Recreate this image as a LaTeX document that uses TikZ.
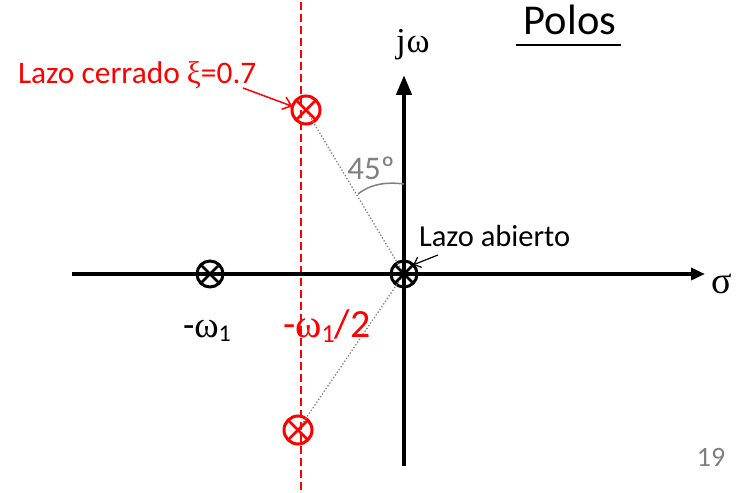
\documentclass[tikz,border=0pt]{standalone}
\usepackage{fontspec}
\setmainfont{Carlito}
\newfontfamily\gr{Liberation Serif}
\usetikzlibrary{arrows.meta}
\definecolor{lred}{RGB}{255,0,0}
\definecolor{lgray}{RGB}{128,128,128}
\begin{document}
\begin{tikzpicture}[x=1pt,y=-1pt,
  axis/.style={line width=4.5pt},
  pole/.style={circle,draw,line width=3pt,minimum size=26pt,inner sep=0pt,outer sep=0pt},
  redpole/.style={pole,draw=lred,minimum size=28pt},
  crossline/.style={line width=2.5pt},
  guide/.style={lgray,dotted,line width=1.3pt},
  lbl/.style={inner sep=0pt,outer sep=0pt}
]
\useasboundingbox (0,0) rectangle (743,492);

% red dashed line
\coordinate (dt) at (301,2);
\coordinate (db) at (301,492);
\draw[lred,dashed,dash pattern=on 8pt off 4pt,line width=1.5pt] (dt) -- (db);

% poles
\node[redpole] (pt) at (306,110) {};
\node[redpole] (pb) at (298,430) {};
\node[pole] (o) at (404,274) {};
\node[pole] (w) at (210,274) {};

% guides
\draw[guide] (pt.center) -- (o.center);
\draw[guide] (pb.center) -- (o.center);

% axes
\coordinate (xl) at (72,274);
\coordinate (xr) at (705,274);
\coordinate (yb) at (404,466);
\coordinate (yt) at (404,75);
\draw[axis,-{Triangle[length=14pt,width=12pt]}] (xl) -- (xr);
\draw[axis,-{Triangle[length=20pt,width=15pt]}] (yb) -- (yt);

% crosses
\foreach \n/\c in {pt/lred,pb/lred,o/black,w/black}{
  \draw[crossline,\c] (\n.north east) -- (\n.south west) (\n.north west) -- (\n.south east);
}

% axis labels
\node[lbl,anchor=base west] (jw) at (396,53) {\fontsize{35}{40}\selectfont\gr j\hspace{1pt}ω};
\node[lbl] (sg) at (722,284) {\fontsize{38}{44}\selectfont\gr σ};

% title
\node[lbl,anchor=base] (title) at (570,35) {\fontsize{42.5}{50}\selectfont Polos};
\draw[line width=2pt] (516,45) -- (621,45);

% 45 degree
\node[lbl,lgray] (ang) at (371,168) {\fontsize{33}{38}\selectfont 45º};
\coordinate (a1) at (358,194);
\coordinate (a2) at (404,184);
\draw[lgray,line width=1.5pt] (a1) .. controls (372,183) and (388,182) .. (a2);

% Lazo abierto
\node[lbl,anchor=base west] (la) at (419,246) {\fontsize{30.5}{36}\selectfont Lazo abierto};
\coordinate (la1) at (438,255);
\draw[line width=1.2pt,-{Straight Barb[length=6pt,width=11pt]}] (la1) -- (o.north east);

% Lazo cerrado
\node[lbl,anchor=base west,lred] (lc) at (18,84) {\fontsize{31.4}{37}\selectfont Lazo cerrado {\gr ξ}=0.7};
\coordinate (lc1) at (243,88);
\draw[lred,line width=1.5pt,-{Straight Barb[length=8pt,width=13pt]}] (lc1) -- (pt.165);

% pole labels
\node[lbl,anchor=base west] (lw) at (183,337) {\fontsize{37}{42}\selectfont -{\gr ω}\raisebox{-4pt}{\fontsize{24}{28}\selectfont 1}};
\node[lbl,anchor=base west,lred] (lw2) at (283,337) {\fontsize{40}{48}\selectfont -{\gr ω}\raisebox{-5pt}{\fontsize{26}{30}\selectfont 1}/2};

% page number
\node[lbl,lgray] (pg) at (711,457) {\fontsize{28}{34}\selectfont 19};
\end{tikzpicture}
\end{document}
